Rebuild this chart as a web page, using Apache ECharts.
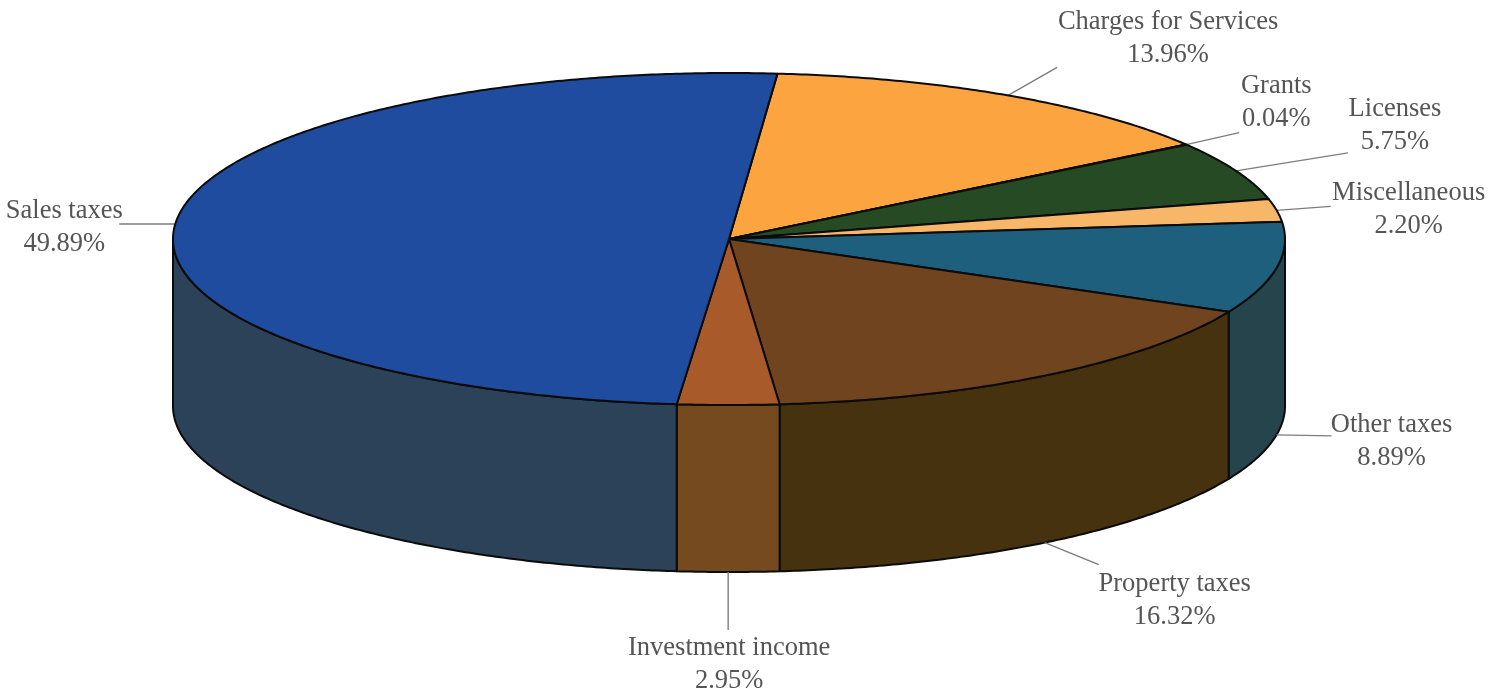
<!DOCTYPE html>
<html>
<head>
<meta charset="utf-8">
<title>Revenue by source</title>
<style>
  html, body { margin: 0; padding: 0; background: #ffffff; }
  #chart { width: 1500px; height: 692px; }
</style>
<script src="https://cdn.jsdelivr.net/npm/echarts@6/dist/echarts.min.js"></script>
</head>
<body>
<div id="chart"></div>
<script>
// Revenue shares, clockwise from the slice that opens at the top of the disc
const sourceNames = ['Charges for Services', 'Grants', 'Licenses', 'Miscellaneous', 'Other taxes', 'Property taxes', 'Investment income', 'Sales taxes'];
const sharePercent = [13.96, 0.04, 5.75, 2.20, 8.89, 16.32, 2.95, 49.89];
const topColors = ['#fca540', '#30502a', '#254a24', '#f8b668', '#1f5f7e', '#70441f', '#a85a2a', '#1f4c9e'];
const wallColors = ['#9a6a30', '#1c3018', '#1a3018', '#a07a48', '#26444c', '#47320f', '#754a1f', '#2b4258'];

// Pixel offset of each leader's outer end from its rim anchor, and of the label centre from that end
const leaderOffsets = [[49, -28], [53, -12], [112, -18], [54, -4], [55, 1], [54, 22], [0, 58], [-56, 0]];
const labelOffsets = [[111, -29], [37, -30], [47, -27], [78, 3], [60, 6], [76, 36], [1, 35], [-55, 4]];

const START_ANGLE = 85.0;   // degrees, measured anticlockwise from the +x axis
const DEPTH = 1.006;        // wall height in y-axis units
const FONT = '"Liberation Serif", "Times New Roman", serif';

// Cumulative slice limits, going clockwise
const limits = [];
sharePercent.reduce((acc, v) => { limits.push([acc, acc + v]); return acc + v; }, 0);
const toAngle = p => START_ANGLE - p * 3.6;
const rad = d => d * Math.PI / 180;
const rimPoint = (deg, drop) => [Math.cos(rad(deg)), Math.sin(rad(deg)) - (drop || 0)];

function arcPoints(from, to, drop) {
  const steps = Math.max(2, Math.ceil(Math.abs(to - from) / 0.5));
  const pts = [];
  for (let i = 0; i <= steps; i++) pts.push(rimPoint(from + (to - from) * i / steps, drop));
  return pts;
}

// The visible wall runs along the front half of the rim only (180..360 degrees)
function wallRange(a0, a1) {
  const hi = a0 < 0 ? a0 + 360 : a0;
  const lo = a1 < 0 ? a1 + 360 : a1;
  if (hi <= 180 && lo <= 180 && a1 >= 0) return null;
  const top = a0 >= 0 ? (a0 > 180 ? a0 : 360 + 0) : a0 + 360;
  const bottom = a1 >= 0 ? 180 : a1 + 360;
  const start = Math.min(top, 360);
  const end = Math.max(bottom, 180);
  return start > end ? [end, start] : null;
}

function renderSlice(params, api) {
  const i = params.dataIndex;
  const value = api.value(0);
  const a0 = toAngle(limits[i][0]);
  const a1 = toAngle(limits[i][1]);
  const mid = (a0 + a1) / 2;
  const mapped = pts => pts.map(p => api.coord(p));
  const children = [];
  const stroke = { stroke: '#0b0b0b', lineWidth: 2, lineJoin: 'round' };

  // Front wall of the slice
  const range = wallRange(a0, a1);
  if (range) {
    const upper = arcPoints(range[0], range[1], 0);
    const lower = arcPoints(range[1], range[0], DEPTH);
    children.push({
      type: 'polygon',
      shape: { points: mapped(upper.concat(lower)) },
      style: Object.assign({ fill: wallColors[i] }, stroke)
    });
  }

  // Top face of the slice
  children.push({
    type: 'polygon',
    shape: { points: mapped([[0, 0]].concat(arcPoints(a0, a1, 0))) },
    style: Object.assign({ fill: topColors[i] }, stroke),
    z2: 5
  });

  // Leader line anchored on the visible rim at the slice's middle angle
  const midNorm = (mid + 360) % 360;
  const onFront = midNorm > 180 && midNorm < 360 && Math.sin(rad(midNorm)) < -0.05;
  const anchor = api.coord(rimPoint(midNorm, onFront ? DEPTH : 0));
  const tip = [anchor[0] + leaderOffsets[i][0], anchor[1] + leaderOffsets[i][1]];
  children.push({
    type: 'line',
    shape: { x1: anchor[0], y1: anchor[1], x2: tip[0], y2: tip[1] },
    style: { stroke: '#7d7d7d', lineWidth: 1.4 },
    z2: 1
  });

  // Name and percentage
  children.push({
    type: 'text',
    x: tip[0] + labelOffsets[i][0],
    y: tip[1] + labelOffsets[i][1],
    style: {
      text: sourceNames[i] + '\n' + value.toFixed(2) + '%',
      font: '400 26.5px ' + FONT,
      lineHeight: 33,
      fill: '#555555',
      align: 'center',
      verticalAlign: 'middle'
    },
    z2: 6
  });

  return { type: 'group', children };
}

const chart = echarts.init(document.getElementById('chart'), null, { renderer: 'canvas' });
chart.setOption({
  animation: false,
  backgroundColor: '#ffffff',
  grid: { left: 173, top: 73, width: 1112, height: 332, containLabel: false },
  xAxis: { type: 'value', min: -1, max: 1, show: false },
  yAxis: { type: 'value', min: -1, max: 1, show: false },
  series: [{
    type: 'custom',
    coordinateSystem: 'cartesian2d',
    clip: false,
    silent: true,
    renderItem: renderSlice,
    encode: { x: 0, y: 1 },
    data: sharePercent.map(v => [v, 0])
  }]
});
</script>
</body>
</html>
